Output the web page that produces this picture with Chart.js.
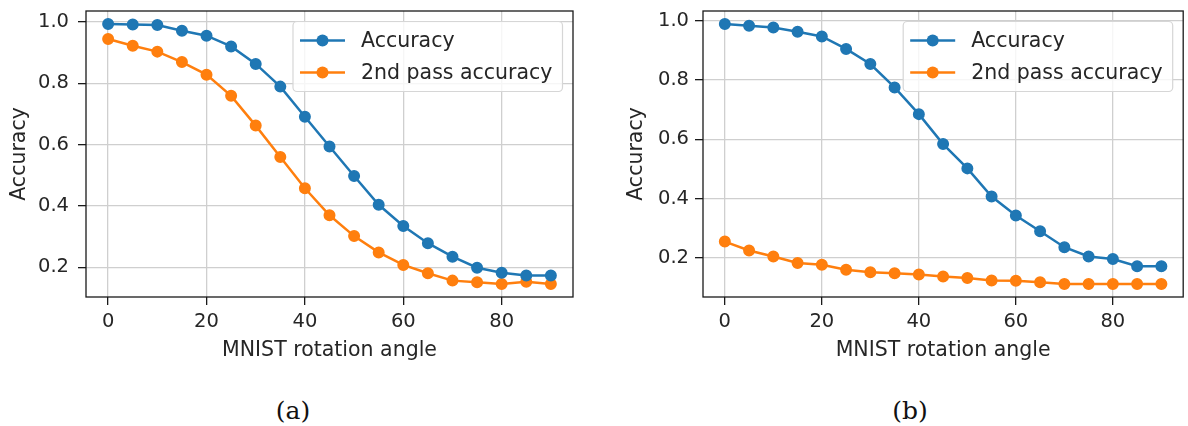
<!DOCTYPE html>
<html>
<head>
<meta charset="utf-8">
<script src="https://cdn.jsdelivr.net/npm/chart.js@4/dist/chart.umd.min.js"></script>
<style>
  html, body { margin: 0; padding: 0; background: #fff; }
  body { position: relative; width: 1188px; height: 426px; overflow: hidden; }
  .panel { position: absolute; top: 0; }
  .caption {
    position: absolute; top: 396px; width: 80px; margin-left: -40px;
    text-align: center; font-family: "DejaVu Serif", "Liberation Serif", serif;
    font-size: 25px; color: #111;
  }
</style>
</head>
<body>
<div class="panel" style="left:0"><canvas id="chartA" width="594" height="380"></canvas></div>
<div class="panel" style="left:594px"><canvas id="chartB" width="596" height="380"></canvas></div>
<div class="caption" style="left:293px">(a)</div>
<div class="caption" style="left:910px">(b)</div>

<script>
// rotation angles in degrees
const angles = [0, 5, 10, 15, 20, 25, 30, 35, 40, 45, 50, 55, 60, 65, 70, 75, 80, 85, 90];

// panel (a)
const accuracyA = [0.993, 0.991, 0.990, 0.971, 0.955, 0.920, 0.863, 0.789, 0.691, 0.594,
                   0.498, 0.404, 0.335, 0.279, 0.235, 0.199, 0.183, 0.174, 0.174];
const secondPassA = [0.944, 0.922, 0.903, 0.869, 0.828, 0.759, 0.662, 0.560, 0.458, 0.370,
                     0.302, 0.249, 0.208, 0.181, 0.157, 0.152, 0.146, 0.153, 0.146];

// panel (b)
const accuracyB = [0.989, 0.983, 0.977, 0.963, 0.947, 0.905, 0.854, 0.775, 0.685, 0.584,
                   0.502, 0.407, 0.343, 0.290, 0.236, 0.205, 0.196, 0.172, 0.172];
const secondPassB = [0.255, 0.225, 0.205, 0.183, 0.177, 0.160, 0.152, 0.148, 0.144, 0.137,
                     0.132, 0.124, 0.123, 0.118, 0.112, 0.112, 0.112, 0.112, 0.112];

const xTicks = [0, 20, 40, 60, 80];
const yTicks = [0.2, 0.4, 0.6, 0.8, 1.0];
const seriesLabels = ['Accuracy', '2nd pass accuracy'];

const BLUE = '#1f77b4';
const ORANGE = '#ff7f0e';
const FONT = '"DejaVu Sans", "Liberation Sans", sans-serif';
const TEXT = '#262626';
const TICK_SIZE = 19.5;
const LABEL_SIZE = 20.5;

Chart.defaults.font.family = FONT;
Chart.defaults.font.size = TICK_SIZE;
Chart.defaults.color = TEXT;

// matplotlib-like margins: 5% of data range on each side
function withMargin(values) {
  const lo = Math.min(...values), hi = Math.max(...values);
  const m = (hi - lo) * 0.05;
  return { min: lo - m, max: hi + m };
}

// full box around the axes (all four spines)
const frame = {
  id: 'frame',
  afterDatasetsDraw(chart) {
    const { ctx, chartArea: a } = chart;
    ctx.save();
    ctx.strokeStyle = '#1a1a1a';
    ctx.lineWidth = 1.3;
    ctx.strokeRect(a.left, a.top, a.right - a.left, a.bottom - a.top);
    ctx.restore();
  }
};

// legend drawn the way matplotlib does it: line + marker, framed box
const mplLegend = {
  id: 'mplLegend',
  afterDraw(chart) {
    const { ctx, chartArea: a } = chart;
    const datasets = chart.data.datasets;
    ctx.save();
    ctx.font = LABEL_SIZE + 'px ' + FONT;
    const textW = Math.max(...datasets.map(d => ctx.measureText(d.label).width));
    const w = 7 + 45 + 16 + textW + 10;
    const h = 70;
    const x = a.right - 10.5 - w;
    const y = a.top + 10.5;

    ctx.beginPath();
    ctx.roundRect(x, y, w, h, 4);
    ctx.fillStyle = 'rgba(255,255,255,0.8)';
    ctx.fill();
    ctx.strokeStyle = '#d6d6d6';
    ctx.lineWidth = 1.2;
    ctx.stroke();

    datasets.forEach((ds, i) => {
      const cy = y + 19 + i * 32;
      ctx.strokeStyle = ds.borderColor;
      ctx.lineWidth = 2.5;
      ctx.beginPath();
      ctx.moveTo(x + 7, cy);
      ctx.lineTo(x + 52, cy);
      ctx.stroke();
      ctx.beginPath();
      ctx.arc(x + 29.5, cy, 6, 0, Math.PI * 2);
      ctx.fillStyle = ds.borderColor;
      ctx.fill();
      ctx.fillStyle = TEXT;
      ctx.textBaseline = 'middle';
      ctx.textAlign = 'left';
      ctx.fillText(ds.label, x + 68, cy + 1);
    });
    ctx.restore();
  }
};

function makeChart(id, accuracy, secondPass, cfg) {
  const ctx = document.getElementById(id).getContext('2d');
  const yRange = withMargin(accuracy.concat(secondPass));
  const xRange = withMargin(angles);

  const line = (label, data, color) => ({
    label,
    data: angles.map((a, i) => ({ x: a, y: data[i] })),
    borderColor: color,
    backgroundColor: color,
    borderWidth: 2.5,
    pointRadius: 5.2,
    pointBorderWidth: 1.6,
    pointBackgroundColor: color,
    pointBorderColor: color,
    tension: 0,
  });

  return new Chart(ctx, {
    type: 'line',
    data: {
      datasets: [
        line(seriesLabels[0], accuracy, BLUE),
        line(seriesLabels[1], secondPass, ORANGE),
      ]
    },
    options: {
      responsive: false,
      animation: false,
      layout: { padding: cfg.padding },
      plugins: {
        legend: { display: false },
        tooltip: { enabled: false },
      },
      scales: {
        x: {
          type: 'linear',
          min: xRange.min,
          max: xRange.max,
          afterBuildTicks: (scale) => { scale.ticks = xTicks.map(v => ({ value: v })); },
          afterFit: (scale) => {
            scale.height = 83;
            scale.paddingLeft = 0;
            scale.paddingRight = 0;
          },
          grid: { color: '#cfcfcf', lineWidth: 1.3, tickColor: '#1a1a1a', tickLength: 8, tickWidth: 1.3 },
          border: { display: false },
          ticks: { padding: 5, color: TEXT, maxRotation: 0, callback: (v) => String(v) },
          title: {
            display: true, text: 'MNIST rotation angle', color: TEXT,
            font: { size: LABEL_SIZE }, padding: { top: 0, bottom: 17 }
          },
        },
        y: {
          min: yRange.min,
          max: yRange.max,
          afterBuildTicks: (scale) => { scale.ticks = yTicks.map(v => ({ value: v })); },
          afterFit: (scale) => {
            scale.width = 86;
            scale.paddingTop = 0;
            scale.paddingBottom = 0;
          },
          grid: { color: '#cfcfcf', lineWidth: 1.3, tickColor: '#1a1a1a', tickLength: 8, tickWidth: 1.3 },
          border: { display: false },
          ticks: { padding: cfg.yTickPad, color: TEXT, callback: (v) => v.toFixed(1) },
          title: {
            display: true, text: 'Accuracy', color: TEXT,
            font: { size: LABEL_SIZE }, padding: { top: 7, bottom: 0 }
          },
        }
      }
    },
    plugins: [frame, mplLegend]
  });
}

makeChart('chartA', accuracyA, secondPassA, { padding: { left: 0, top: 11, right: 21, bottom: 0 }, yTickPad: 9 });
makeChart('chartB', accuracyB, secondPassB, { padding: { left: 23, top: 11, right: 0, bottom: 0 }, yTickPad: 6 });
</script>
</body>
</html>
